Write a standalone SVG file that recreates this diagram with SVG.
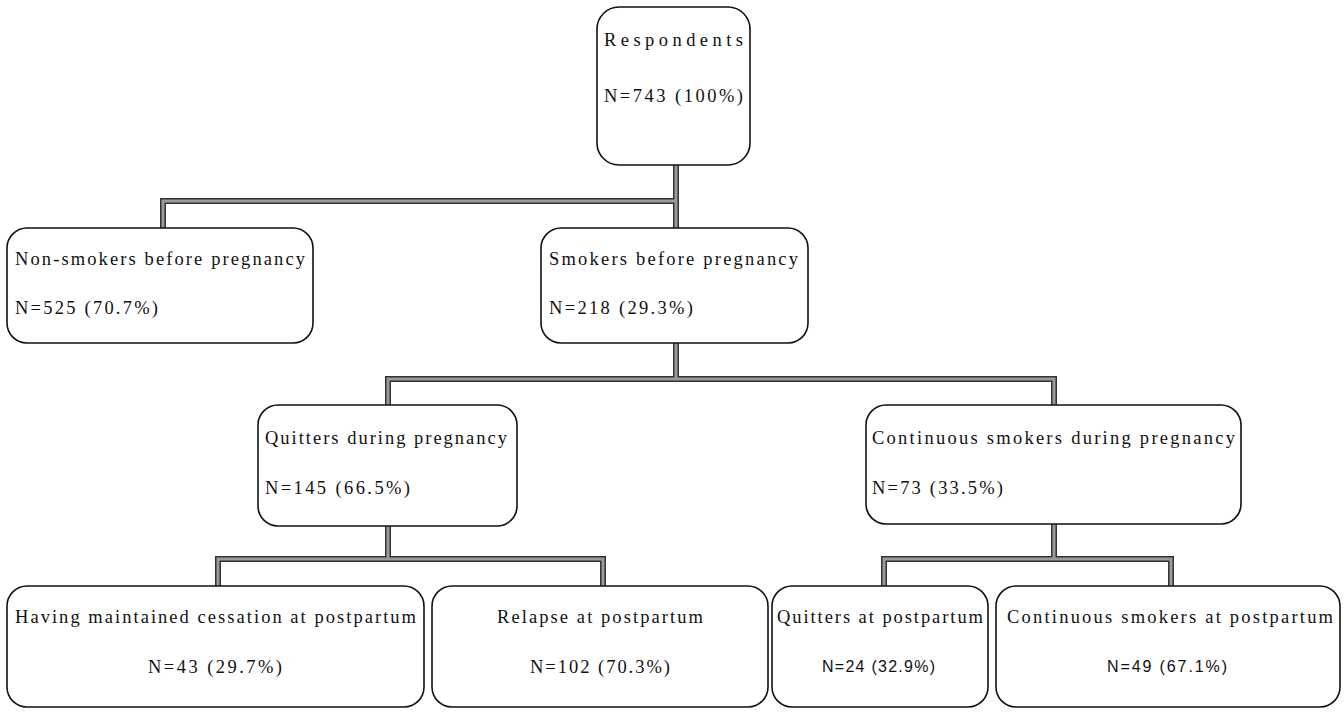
<svg xmlns="http://www.w3.org/2000/svg" width="1344" height="712" viewBox="0 0 1344 712">
<style>
.box{fill:#fff;stroke:#111;stroke-width:1.6}
.t{font-family:"Liberation Serif","Times New Roman",serif;font-size:18.5px;fill:#111}
.s{font-family:"Liberation Sans",Arial,sans-serif;font-size:16px;fill:#111}
.co{fill:none;stroke:#333;stroke-width:6;stroke-linejoin:miter}
.ci{fill:none;stroke:#9a9a9a;stroke-width:3;stroke-linejoin:miter}
</style>
<rect width="1344" height="712" fill="#fff"/>
<g id="connectors">
<path class="co" d="M676 165V201M163 228V201H676V228"/>
<path class="co" d="M676 343V379M388 405V379H1054V405"/>
<path class="co" d="M388 526V559M218 586V559H603V586"/>
<path class="co" d="M1054 524V559M884 586V559H1171V586"/>
<path class="ci" d="M676 165V201M163 228V201H676V228"/>
<path class="ci" d="M676 343V379M388 405V379H1054V405"/>
<path class="ci" d="M388 526V559M218 586V559H603V586"/>
<path class="ci" d="M1054 524V559M884 586V559H1171V586"/>
</g>
<g id="respondents">
<rect class="box" x="597" y="7" width="153" height="158" rx="22"/>
<text class="t" x="604" y="46" textLength="139" lengthAdjust="spacing">Respondents</text>
<text class="t" x="604" y="102" textLength="139" lengthAdjust="spacing">N=743 (100%)</text>
</g>
<g id="nonsmokers">
<rect class="box" x="7" y="228" width="306" height="115" rx="20"/>
<text class="t" x="15" y="265" textLength="290" lengthAdjust="spacing">Non-smokers before pregnancy</text>
<text class="t" x="15" y="314" textLength="143" lengthAdjust="spacing">N=525 (70.7%)</text>
</g>
<g id="smokers">
<rect class="box" x="541" y="228" width="267" height="115" rx="20"/>
<text class="t" x="549" y="265" textLength="249" lengthAdjust="spacing">Smokers before pregnancy</text>
<text class="t" x="549" y="314" textLength="144" lengthAdjust="spacing">N=218 (29.3%)</text>
</g>
<g id="quitters-pregnancy">
<rect class="box" x="258" y="405" width="259" height="121" rx="20"/>
<text class="t" x="265" y="444" textLength="242" lengthAdjust="spacing">Quitters during pregnancy</text>
<text class="t" x="265" y="494" textLength="145" lengthAdjust="spacing">N=145 (66.5%)</text>
</g>
<g id="continuous-pregnancy">
<rect class="box" x="866" y="405" width="375" height="119" rx="20"/>
<text class="t" x="872" y="444" textLength="363" lengthAdjust="spacing">Continuous smokers during pregnancy</text>
<text class="t" x="872" y="494" textLength="131" lengthAdjust="spacing">N=73 (33.5%)</text>
</g>
<g id="maintained">
<rect class="box" x="7" y="586" width="417" height="121" rx="20"/>
<text class="t" x="15" y="623" textLength="401" lengthAdjust="spacing">Having maintained cessation at postpartum</text>
<text class="t" x="148" y="673" textLength="134" lengthAdjust="spacing">N=43 (29.7%)</text>
</g>
<g id="relapse">
<rect class="box" x="432" y="586" width="336" height="121" rx="20"/>
<text class="t" x="497" y="623" textLength="206" lengthAdjust="spacing">Relapse at postpartum</text>
<text class="t" x="530" y="673" textLength="140" lengthAdjust="spacing">N=102 (70.3%)</text>
</g>
<g id="quitters-postpartum">
<rect class="box" x="772" y="586" width="216" height="121" rx="20"/>
<text class="t" x="777" y="623" textLength="206" lengthAdjust="spacing">Quitters at postpartum</text>
<text class="s" x="822" y="672" textLength="113" lengthAdjust="spacing">N=24 (32.9%)</text>
</g>
<g id="continuous-postpartum">
<rect class="box" x="996" y="586" width="344" height="121" rx="20"/>
<text class="t" x="1007" y="623" textLength="326" lengthAdjust="spacing">Continuous smokers at postpartum</text>
<text class="s" x="1107" y="672" textLength="120" lengthAdjust="spacing">N=49 (67.1%)</text>
</g>
</svg>
